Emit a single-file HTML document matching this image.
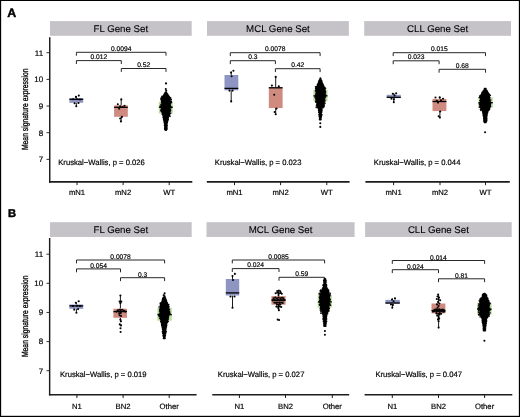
<!DOCTYPE html>
<html lang="en"><head><meta charset="utf-8"><title>Figure</title>
<style>
html,body{margin:0;padding:0;background:#fff;}
body{width:520px;height:417px;overflow:hidden;}
svg{display:block;font-family:"Liberation Sans", Arial, Helvetica, sans-serif;text-rendering:geometricPrecision;}
.t{fill:#000;stroke:#000;stroke-width:0.1px;}
.yt{stroke-width:0.3px;}
.s{stroke-width:0.18px;}
.b{stroke-width:0.45px;stroke-linejoin:round;}
.ax{stroke:#1c1c1c;fill:none;}
.br{stroke:#1c1c1c;stroke-width:0.95;fill:none;}
.wh{stroke:#000;stroke-width:0.9;fill:none;}
.md{stroke:#000;stroke-width:1.3;fill:none;}
.sw{stroke:#000;stroke-width:1.9;stroke-linecap:round;fill:none;}
.d{fill:#000;}
</style></head><body>
<svg width="520" height="417" viewBox="0 0 520 417">
<rect x="0" y="0" width="520" height="417" fill="#fff"/>
<rect x="50" y="21.1" width="141.70" height="14.70" fill="#c5c3c8"/>
<text class="t" x="120.85" y="31.85" font-size="9.7" text-anchor="middle">FL Gene Set</text>
<rect x="207" y="21.1" width="141.85" height="14.70" fill="#c5c3c8"/>
<text class="t" x="277.93" y="31.85" font-size="9.7" text-anchor="middle">MCL Gene Set</text>
<rect x="364.2" y="21.1" width="146.80" height="14.70" fill="#c5c3c8"/>
<text class="t" x="437.6" y="31.85" font-size="9.7" text-anchor="middle">CLL Gene Set</text>
<path class="ax" stroke-width="1.45" d="M49.75 37.3V182.65"/>
<path class="ax" stroke-width="1.65" d="M49.05 181.85H192.3"/>
<path class="ax" stroke-width="1.65" d="M206.8 181.85H349.6"/>
<path class="ax" stroke-width="1.65" d="M365.4 181.85H509.8"/>
<path class="ax" stroke-width="0.9" d="M46.5 52.7H49.7"/>
<text class="t s" x="43.1" y="55.55" font-size="8" text-anchor="end">11</text>
<path class="ax" stroke-width="0.9" d="M46.5 79.4H49.7"/>
<text class="t s" x="43.1" y="82.25" font-size="8" text-anchor="end">10</text>
<path class="ax" stroke-width="0.9" d="M46.5 106.05H49.7"/>
<text class="t s" x="43.1" y="108.9" font-size="8" text-anchor="end">9</text>
<path class="ax" stroke-width="0.9" d="M46.5 132.7H49.7"/>
<text class="t s" x="43.1" y="135.55" font-size="8" text-anchor="end">8</text>
<path class="ax" stroke-width="0.9" d="M46.5 159.4H49.7"/>
<text class="t s" x="43.1" y="162.25" font-size="8" text-anchor="end">7</text>
<path class="ax" stroke-width="1.0" d="M77 181.75V185.15"/>
<text class="t s" x="77" y="195.1" font-size="7.7" text-anchor="middle">mN1</text>
<path class="ax" stroke-width="1.0" d="M123.1 181.75V185.15"/>
<text class="t s" x="123.1" y="195.1" font-size="7.7" text-anchor="middle">mN2</text>
<path class="ax" stroke-width="1.0" d="M169.2 181.75V185.15"/>
<text class="t s" x="169.2" y="195.1" font-size="7.7" text-anchor="middle">WT</text>
<path class="ax" stroke-width="1.0" d="M234.5 181.75V185.15"/>
<text class="t s" x="234.5" y="195.1" font-size="7.7" text-anchor="middle">mN1</text>
<path class="ax" stroke-width="1.0" d="M280.6 181.75V185.15"/>
<text class="t s" x="280.6" y="195.1" font-size="7.7" text-anchor="middle">mN2</text>
<path class="ax" stroke-width="1.0" d="M326.8 181.75V185.15"/>
<text class="t s" x="326.8" y="195.1" font-size="7.7" text-anchor="middle">WT</text>
<path class="ax" stroke-width="1.0" d="M393.6 181.75V185.15"/>
<text class="t s" x="393.6" y="195.1" font-size="7.7" text-anchor="middle">mN1</text>
<path class="ax" stroke-width="1.0" d="M440 181.75V185.15"/>
<text class="t s" x="440" y="195.1" font-size="7.7" text-anchor="middle">mN2</text>
<path class="ax" stroke-width="1.0" d="M485.5 181.75V185.15"/>
<text class="t s" x="485.5" y="195.1" font-size="7.7" text-anchor="middle">WT</text>
<text class="t s" x="58.25" y="164.6" font-size="7.8" text-anchor="start" textLength="86.6" lengthAdjust="spacingAndGlyphs">Kruskal−Wallis, p = 0.026</text>
<text class="t s" x="214.8" y="164.6" font-size="7.8" text-anchor="start" textLength="86.6" lengthAdjust="spacingAndGlyphs">Kruskal−Wallis, p = 0.023</text>
<text class="t s" x="373.8" y="164.6" font-size="7.8" text-anchor="start" textLength="86.6" lengthAdjust="spacingAndGlyphs">Kruskal−Wallis, p = 0.044</text>
<text class="t yt" font-size="8.9" text-anchor="middle" transform="translate(27.6 109.3) rotate(-90) scale(0.765 1)">Mean signature expression</text>
<text class="t b" x="7.2" y="16.6" font-size="12.4" font-weight="bold">A</text>
<path class="br" d="M76.4 55.699999999999996V52.3H166.0V55.699999999999996"/>
<text class="t s" x="121.2" y="51.0" font-size="6.7" text-anchor="middle">0.0094</text>
<path class="br" d="M76.4 64.0V60.6H121.3V64.0"/>
<text class="t s" x="98.85" y="58.9" font-size="6.7" text-anchor="middle">0.012</text>
<path class="br" d="M121.3 71.9V68.5H166.0V71.9"/>
<text class="t s" x="143.65" y="66.8" font-size="6.7" text-anchor="middle">0.52</text>
<path class="br" d="M230.3 56.1V52.7H320.1V56.1"/>
<text class="t s" x="275.2" y="51.4" font-size="6.7" text-anchor="middle">0.0078</text>
<path class="br" d="M230.3 64.10000000000001V60.7H275.4V64.10000000000001"/>
<text class="t s" x="252.85" y="59.0" font-size="6.7" text-anchor="middle">0.3</text>
<path class="br" d="M275.4 72.10000000000001V68.7H320.1V72.10000000000001"/>
<text class="t s" x="297.75" y="67.0" font-size="6.7" text-anchor="middle">0.42</text>
<path class="br" d="M393.2 56.1V52.7H485.5V56.1"/>
<text class="t s" x="439.35" y="51.4" font-size="6.7" text-anchor="middle">0.015</text>
<path class="br" d="M393.2 64.2V60.8H439.1V64.2"/>
<text class="t s" x="416.15" y="59.1" font-size="6.7" text-anchor="middle">0.023</text>
<path class="br" d="M439.1 72.7V69.3H485.5V72.7"/>
<text class="t s" x="462.3" y="67.6" font-size="6.7" text-anchor="middle">0.68</text>
<path class="wh" d="M76.3 96V98.2"/>
<path class="wh" d="M76.3 102.8V106.2"/>
<rect x="69.4" y="98.2" width="13.80" height="4.60" fill="#8e95c3"/>
<path class="md" d="M69.4 99.3H83.2"/>
<circle class="d" cx="78.80" cy="95.60" r="1.05"/>
<circle class="d" cx="75.90" cy="96.90" r="1.05"/>
<circle class="d" cx="74.60" cy="103.30" r="1.05"/>
<circle class="d" cx="78.50" cy="103.00" r="1.05"/>
<circle class="d" cx="76.30" cy="106.20" r="1.05"/>
<circle class="d" cx="73.00" cy="99.30" r="1.05"/>
<circle class="d" cx="77.00" cy="99.20" r="1.05"/>
<circle class="d" cx="80.00" cy="99.50" r="1.05"/>
<path class="wh" d="M121.2 99.2V105.4"/>
<path class="wh" d="M121.2 116.8V121.5"/>
<rect x="114.1" y="105.4" width="13.70" height="11.40" fill="#cf8b7f"/>
<path class="md" d="M114.1 107.3H127.8"/>
<circle class="d" cx="121.30" cy="99.40" r="1.05"/>
<circle class="d" cx="117.80" cy="104.20" r="1.05"/>
<circle class="d" cx="124.50" cy="105.80" r="1.05"/>
<circle class="d" cx="120.20" cy="106.20" r="1.05"/>
<circle class="d" cx="119.20" cy="108.80" r="1.05"/>
<circle class="d" cx="122.60" cy="107.00" r="1.05"/>
<circle class="d" cx="121.90" cy="116.90" r="1.05"/>
<circle class="d" cx="120.20" cy="118.50" r="1.05"/>
<circle class="d" cx="120.90" cy="121.40" r="1.05"/>
<rect x="158.85" y="101.8" width="13.85" height="11.60" fill="#b9dd9d"/>
<path class="md" d="M158.85 107.2H172.7"/>
<path class="sw" d="M165.40 92.40H166.37M165.07 93.20H166.61M164.58 94.00H167.28M164.13 94.80H167.76M163.66 95.60H168.06M162.95 96.40H169.04M162.02 97.20H169.39M162.31 98.00H170.17M161.42 98.80H169.66M161.84 99.60H170.04M161.76 100.40H169.83M161.87 101.20H170.33M161.62 102.00H170.44M162.01 102.80H170.00M162.07 103.60H170.29M161.18 104.40H169.95M161.46 105.20H170.12M161.54 106.00H170.36M160.97 106.80H170.56M161.97 107.60H170.21M161.91 108.40H169.92M162.09 109.20H169.99M161.51 110.00H170.24M161.61 110.80H170.17M162.13 111.60H169.67M162.38 112.40H169.50M162.40 113.20H169.39M162.37 114.00H169.41M162.85 114.80H168.64M163.16 115.60H168.52M163.36 116.40H168.31M163.24 117.20H168.18M163.63 118.00H168.14M163.73 118.80H167.85M163.67 119.60H168.11M164.03 120.40H167.69M164.35 121.20H167.37M164.41 122.00H167.27M164.42 122.80H167.08M164.77 123.60H166.84M164.92 124.40H166.67M164.64 125.20H167.04M164.80 126.00H166.93M165.29 126.80H166.39M164.92 127.60H166.77M164.85 128.40H166.83M164.91 129.20H166.79M165.49 130.00H166.20"/>
<circle class="d" cx="162.02" cy="96.40" r="0.8"/>
<circle class="d" cx="161.06" cy="98.00" r="0.8"/>
<circle class="d" cx="170.77" cy="98.00" r="0.8"/>
<circle class="d" cx="160.97" cy="99.60" r="0.8"/>
<circle class="d" cx="171.23" cy="99.60" r="0.8"/>
<circle class="d" cx="171.19" cy="101.20" r="0.8"/>
<circle class="d" cx="171.53" cy="102.00" r="0.8"/>
<circle class="d" cx="171.17" cy="102.80" r="0.8"/>
<circle class="d" cx="160.26" cy="106.00" r="0.8"/>
<circle class="d" cx="160.48" cy="106.80" r="0.8"/>
<circle class="d" cx="160.67" cy="107.60" r="0.8"/>
<circle class="d" cx="171.55" cy="107.60" r="0.8"/>
<circle class="d" cx="160.79" cy="110.00" r="0.8"/>
<circle class="d" cx="161.13" cy="110.80" r="0.8"/>
<circle class="d" cx="170.62" cy="110.80" r="0.8"/>
<circle class="d" cx="161.41" cy="111.60" r="0.8"/>
<circle class="d" cx="170.71" cy="113.20" r="0.8"/>
<circle class="d" cx="169.68" cy="114.80" r="0.8"/>
<circle class="d" cx="169.44" cy="115.60" r="0.8"/>
<circle class="d" cx="169.96" cy="116.40" r="0.8"/>
<circle class="d" cx="166.00" cy="83.40" r="1.05"/>
<circle class="d" cx="165.80" cy="89.00" r="1.05"/>
<circle class="d" cx="166.20" cy="90.80" r="1.05"/>
<path class="wh" d="M231.2 71.5V75"/>
<path class="wh" d="M231.2 90.3V101.4"/>
<rect x="224.5" y="75" width="13.80" height="15.30" fill="#8e95c3"/>
<path class="md" d="M224.5 88.4H238.3"/>
<circle class="d" cx="233.40" cy="70.70" r="1.05"/>
<circle class="d" cx="231.10" cy="72.60" r="1.05"/>
<circle class="d" cx="231.60" cy="76.20" r="1.05"/>
<circle class="d" cx="229.50" cy="90.60" r="1.05"/>
<circle class="d" cx="232.60" cy="90.60" r="1.05"/>
<circle class="d" cx="231.20" cy="101.40" r="1.05"/>
<path class="wh" d="M275.7 76.7V87.1"/>
<path class="wh" d="M275.7 108.1V114.3"/>
<rect x="268.8" y="87.1" width="13.80" height="21.00" fill="#cf8b7f"/>
<path class="md" d="M268.8 87.8H282.6"/>
<circle class="d" cx="275.70" cy="76.90" r="1.05"/>
<circle class="d" cx="271.90" cy="85.60" r="1.05"/>
<circle class="d" cx="278.80" cy="86.40" r="1.05"/>
<circle class="d" cx="274.20" cy="94.70" r="1.05"/>
<circle class="d" cx="276.50" cy="108.60" r="1.05"/>
<circle class="d" cx="274.60" cy="112.00" r="1.05"/>
<circle class="d" cx="275.70" cy="114.30" r="1.05"/>
<rect x="313.4" y="89.8" width="14.10" height="11.50" fill="#b9dd9d"/>
<path class="md" d="M313.4 95.85H327.5"/>
<path class="sw" d="M320.10 79.50H320.52M319.50 80.30H321.16M318.90 81.10H321.73M318.75 81.90H321.66M318.69 82.70H321.92M318.40 83.50H322.22M317.84 84.30H322.93M317.32 85.10H323.05M317.49 85.90H323.55M316.61 86.70H323.77M316.21 87.50H324.55M315.98 88.30H324.42M316.02 89.10H323.96M316.07 89.90H324.24M315.71 90.70H324.58M316.22 91.50H324.83M316.33 92.30H324.22M316.47 93.10H324.93M315.99 93.90H324.95M316.04 94.70H324.60M316.34 95.50H324.08M315.79 96.30H324.64M316.03 97.10H324.81M315.88 97.90H324.47M315.81 98.70H324.34M316.27 99.50H324.52M316.36 100.30H324.69M316.02 101.10H323.96M316.34 101.90H323.65M317.21 102.70H323.90M317.33 103.50H323.71M316.88 104.30H323.18M317.31 105.10H323.67M317.36 105.90H323.13M317.77 106.70H323.21M317.57 107.50H322.97M318.69 108.30H321.62M319.13 109.10H321.42M318.71 109.90H321.84M318.88 110.70H321.71M319.31 111.50H321.50M318.94 112.30H321.48M319.49 113.10H321.07M319.49 113.90H321.07M319.10 114.70H321.76M319.62 115.50H320.93M319.47 116.30H321.21M319.66 117.10H321.01M319.74 117.90H320.88M319.93 118.70H320.69M319.69 119.50H320.86"/>
<circle class="d" cx="315.49" cy="86.70" r="0.8"/>
<circle class="d" cx="315.60" cy="88.30" r="0.8"/>
<circle class="d" cx="325.62" cy="88.30" r="0.8"/>
<circle class="d" cx="325.09" cy="89.90" r="0.8"/>
<circle class="d" cx="325.35" cy="91.50" r="0.8"/>
<circle class="d" cx="325.51" cy="92.30" r="0.8"/>
<circle class="d" cx="325.61" cy="94.70" r="0.8"/>
<circle class="d" cx="325.66" cy="95.50" r="0.8"/>
<circle class="d" cx="314.94" cy="97.10" r="0.8"/>
<circle class="d" cx="325.43" cy="97.10" r="0.8"/>
<circle class="d" cx="315.59" cy="101.90" r="0.8"/>
<circle class="d" cx="324.85" cy="101.90" r="0.8"/>
<circle class="d" cx="324.94" cy="103.50" r="0.8"/>
<circle class="d" cx="324.35" cy="105.10" r="0.8"/>
<circle class="d" cx="316.41" cy="105.90" r="0.8"/>
<circle class="d" cx="324.13" cy="106.70" r="0.8"/>
<circle class="d" cx="316.16" cy="107.50" r="0.8"/>
<circle class="d" cx="320.40" cy="78.40" r="1.05"/>
<circle class="d" cx="320.30" cy="123.20" r="1.05"/>
<circle class="d" cx="320.30" cy="126.90" r="1.05"/>
<path class="wh" d="M393.8 93V94.8"/>
<path class="wh" d="M393.8 98.1V102.3"/>
<rect x="386.7" y="94.8" width="14.10" height="3.30" fill="#8e95c3"/>
<path class="md" d="M386.7 97.3H400.8"/>
<circle class="d" cx="396.20" cy="93.20" r="1.05"/>
<circle class="d" cx="392.80" cy="93.80" r="1.05"/>
<circle class="d" cx="394.60" cy="95.40" r="1.05"/>
<circle class="d" cx="391.50" cy="98.80" r="1.05"/>
<circle class="d" cx="394.00" cy="99.20" r="1.05"/>
<circle class="d" cx="393.80" cy="102.30" r="1.05"/>
<path class="wh" d="M439.9 97V98.9"/>
<path class="wh" d="M439.9 111.1V117.3"/>
<rect x="432.5" y="98.9" width="13.90" height="12.20" fill="#cf8b7f"/>
<path class="md" d="M432.5 101.5H446.4"/>
<circle class="d" cx="435.50" cy="97.50" r="1.05"/>
<circle class="d" cx="439.70" cy="97.40" r="1.05"/>
<circle class="d" cx="443.00" cy="98.80" r="1.05"/>
<circle class="d" cx="438.00" cy="102.60" r="1.05"/>
<circle class="d" cx="441.00" cy="100.40" r="1.05"/>
<circle class="d" cx="436.80" cy="100.80" r="1.05"/>
<circle class="d" cx="440.20" cy="111.50" r="1.05"/>
<circle class="d" cx="438.70" cy="116.30" r="1.05"/>
<circle class="d" cx="439.90" cy="117.60" r="1.05"/>
<rect x="478.5" y="97.4" width="14.30" height="10.10" fill="#b9dd9d"/>
<path class="md" d="M478.5 102.7H492.8"/>
<path class="sw" d="M484.60 88.80H485.84M484.52 89.60H485.85M483.71 90.40H486.64M483.45 91.20H487.09M482.59 92.00H487.35M482.15 92.80H488.00M481.98 93.60H488.52M481.66 94.40H489.19M481.39 95.20H488.97M481.32 96.00H489.00M480.69 96.80H489.32M481.06 97.60H489.66M480.61 98.40H489.47M480.79 99.20H489.23M480.60 100.00H489.48M481.03 100.80H489.73M480.84 101.60H489.96M480.33 102.40H490.14M480.71 103.20H490.44M481.04 104.00H490.26M480.29 104.80H490.21M480.20 105.60H490.18M480.15 106.40H490.03M481.08 107.20H489.58M480.89 108.00H489.52M481.81 108.80H489.34M481.70 109.60H488.81M482.42 110.40H488.32M482.77 111.20H487.57M483.00 112.00H487.52M482.97 112.80H487.36M483.16 113.60H486.98M483.50 114.40H486.95M483.36 115.20H486.86M483.56 116.00H486.64M483.93 116.80H486.55M483.94 117.60H486.48M483.86 118.40H486.63M484.19 119.20H486.14M484.00 120.00H486.65M484.09 120.80H486.45M484.01 121.60H486.27M484.73 122.40H485.76"/>
<circle class="d" cx="480.50" cy="95.20" r="0.8"/>
<circle class="d" cx="490.39" cy="95.20" r="0.8"/>
<circle class="d" cx="479.71" cy="96.00" r="0.8"/>
<circle class="d" cx="479.93" cy="96.80" r="0.8"/>
<circle class="d" cx="479.22" cy="97.60" r="0.8"/>
<circle class="d" cx="490.71" cy="100.00" r="0.8"/>
<circle class="d" cx="479.85" cy="100.80" r="0.8"/>
<circle class="d" cx="479.23" cy="103.20" r="0.8"/>
<circle class="d" cx="479.43" cy="104.80" r="0.8"/>
<circle class="d" cx="490.54" cy="106.40" r="0.8"/>
<circle class="d" cx="479.31" cy="107.20" r="0.8"/>
<circle class="d" cx="480.44" cy="109.60" r="0.8"/>
<circle class="d" cx="489.43" cy="109.60" r="0.8"/>
<circle class="d" cx="480.96" cy="110.40" r="0.8"/>
<circle class="d" cx="485.10" cy="132.20" r="1.05"/>
<rect x="50" y="222.2" width="141.70" height="14.80" fill="#c5c3c8"/>
<text class="t" x="120.85" y="233" font-size="9.7" text-anchor="middle">FL Gene Set</text>
<rect x="206.5" y="222.2" width="148.10" height="14.80" fill="#c5c3c8"/>
<text class="t" x="280.55" y="233" font-size="9.7" text-anchor="middle">MCL Gene Set</text>
<rect x="365.1" y="222.2" width="146.60" height="14.80" fill="#c5c3c8"/>
<text class="t" x="438.4" y="233" font-size="9.7" text-anchor="middle">CLL Gene Set</text>
<path class="ax" stroke-width="1.45" d="M49.65 238V395.5"/>
<path class="ax" stroke-width="1.65" d="M48.95 394.70000000000005H196.6"/>
<path class="ax" stroke-width="1.65" d="M212.3 394.70000000000005H349.2"/>
<path class="ax" stroke-width="1.65" d="M364.6 394.70000000000005H512.3"/>
<path class="ax" stroke-width="0.9" d="M46.5 254.2H49.6"/>
<text class="t s" x="43.1" y="257.05" font-size="8" text-anchor="end">11</text>
<path class="ax" stroke-width="0.9" d="M46.5 283.3H49.6"/>
<text class="t s" x="43.1" y="286.15" font-size="8" text-anchor="end">10</text>
<path class="ax" stroke-width="0.9" d="M46.5 312.45H49.6"/>
<text class="t s" x="43.1" y="315.3" font-size="8" text-anchor="end">9</text>
<path class="ax" stroke-width="0.9" d="M46.5 341.6H49.6"/>
<text class="t s" x="43.1" y="344.45" font-size="8" text-anchor="end">8</text>
<path class="ax" stroke-width="0.9" d="M46.5 370.7H49.6"/>
<text class="t s" x="43.1" y="373.55" font-size="8" text-anchor="end">7</text>
<path class="ax" stroke-width="1.0" d="M76.9 394.6V398.0"/>
<text class="t s" x="76.9" y="408.5" font-size="7.7" text-anchor="middle">N1</text>
<path class="ax" stroke-width="1.0" d="M123.1 394.6V398.0"/>
<text class="t s" x="123.1" y="408.5" font-size="7.7" text-anchor="middle">BN2</text>
<path class="ax" stroke-width="1.0" d="M169.2 394.6V398.0"/>
<text class="t s" x="169.2" y="408.5" font-size="7.7" text-anchor="middle">Other</text>
<path class="ax" stroke-width="1.0" d="M239.4 394.6V398.0"/>
<text class="t s" x="239.4" y="408.5" font-size="7.7" text-anchor="middle">N1</text>
<path class="ax" stroke-width="1.0" d="M285.5 394.6V398.0"/>
<text class="t s" x="285.5" y="408.5" font-size="7.7" text-anchor="middle">BN2</text>
<path class="ax" stroke-width="1.0" d="M332.3 394.6V398.0"/>
<text class="t s" x="332.3" y="408.5" font-size="7.7" text-anchor="middle">Other</text>
<path class="ax" stroke-width="1.0" d="M392.3 394.6V398.0"/>
<text class="t s" x="392.3" y="408.5" font-size="7.7" text-anchor="middle">N1</text>
<path class="ax" stroke-width="1.0" d="M438.5 394.6V398.0"/>
<text class="t s" x="438.5" y="408.5" font-size="7.7" text-anchor="middle">BN2</text>
<path class="ax" stroke-width="1.0" d="M484.6 394.6V398.0"/>
<text class="t s" x="484.6" y="408.5" font-size="7.7" text-anchor="middle">Other</text>
<text class="t s" x="60" y="376.8" font-size="7.8" text-anchor="start" textLength="86.6" lengthAdjust="spacingAndGlyphs">Kruskal−Wallis, p = 0.019</text>
<text class="t s" x="217.8" y="376.8" font-size="7.8" text-anchor="start" textLength="86.6" lengthAdjust="spacingAndGlyphs">Kruskal−Wallis, p = 0.027</text>
<text class="t s" x="375.4" y="376.8" font-size="7.8" text-anchor="start" textLength="86.6" lengthAdjust="spacingAndGlyphs">Kruskal−Wallis, p = 0.047</text>
<text class="t yt" font-size="8.9" text-anchor="middle" transform="translate(27.6 316.3) rotate(-90) scale(0.765 1)">Mean signature expression</text>
<text class="t b" x="7.9" y="217.3" font-size="11.2" font-weight="bold">B</text>
<path class="br" d="M76.5 263.4V260H164.6V263.4"/>
<text class="t s" x="120.55" y="259.3" font-size="6.7" text-anchor="middle">0.0078</text>
<path class="br" d="M76.5 272.29999999999995V268.9H120.5V272.29999999999995"/>
<text class="t s" x="98.5" y="268.0" font-size="6.7" text-anchor="middle">0.054</text>
<path class="br" d="M120.5 281.09999999999997V277.7H164.6V281.09999999999997"/>
<text class="t s" x="142.55" y="276.7" font-size="6.7" text-anchor="middle">0.3</text>
<path class="br" d="M232.3 263.4V260H324.6V263.4"/>
<text class="t s" x="278.45" y="259.0" font-size="6.7" text-anchor="middle">0.0085</text>
<path class="br" d="M232.3 272.0V268.6H279V272.0"/>
<text class="t s" x="255.65" y="267.4" font-size="6.7" text-anchor="middle">0.024</text>
<path class="br" d="M279 280.7V277.3H324.6V280.7"/>
<text class="t s" x="301.8" y="276.3" font-size="6.7" text-anchor="middle">0.59</text>
<path class="br" d="M392.3 263.9V260.5H484.6V263.9"/>
<text class="t s" x="438.45" y="259.8" font-size="6.7" text-anchor="middle">0.014</text>
<path class="br" d="M392.3 273.09999999999997V269.7H438.5V273.09999999999997"/>
<text class="t s" x="415.4" y="268.8" font-size="6.7" text-anchor="middle">0.024</text>
<path class="br" d="M438.5 282.2V278.8H484.6V282.2"/>
<text class="t s" x="461.55" y="277.8" font-size="6.7" text-anchor="middle">0.81</text>
<path class="wh" d="M76.4 302V304.5"/>
<path class="wh" d="M76.4 308.8V312.7"/>
<rect x="69.4" y="304.5" width="13.80" height="4.30" fill="#8e95c3"/>
<path class="md" d="M69.4 305.9H83.2"/>
<circle class="d" cx="78.70" cy="301.20" r="1.05"/>
<circle class="d" cx="75.80" cy="302.70" r="1.05"/>
<circle class="d" cx="74.20" cy="309.60" r="1.05"/>
<circle class="d" cx="78.10" cy="309.10" r="1.05"/>
<circle class="d" cx="76.40" cy="312.70" r="1.05"/>
<circle class="d" cx="73.00" cy="306.00" r="1.05"/>
<circle class="d" cx="77.00" cy="305.80" r="1.05"/>
<circle class="d" cx="80.00" cy="306.10" r="1.05"/>
<path class="wh" d="M120.4 295.4V308.7"/>
<path class="wh" d="M120.4 317.8V322.2"/>
<rect x="113.4" y="308.7" width="13.60" height="9.10" fill="#cf8b7f"/>
<path class="md" d="M113.4 311.6H127"/>
<circle class="d" cx="120.40" cy="295.50" r="1.05"/>
<circle class="d" cx="119.60" cy="301.60" r="1.05"/>
<circle class="d" cx="121.30" cy="301.60" r="1.05"/>
<circle class="d" cx="120.40" cy="303.20" r="1.05"/>
<circle class="d" cx="116.40" cy="311.60" r="1.05"/>
<circle class="d" cx="117.90" cy="310.30" r="1.05"/>
<circle class="d" cx="119.40" cy="309.70" r="1.05"/>
<circle class="d" cx="120.90" cy="310.10" r="1.05"/>
<circle class="d" cx="122.40" cy="309.80" r="1.05"/>
<circle class="d" cx="123.90" cy="310.70" r="1.05"/>
<circle class="d" cx="125.20" cy="311.60" r="1.05"/>
<circle class="d" cx="119.20" cy="313.40" r="1.05"/>
<circle class="d" cx="120.80" cy="312.90" r="1.05"/>
<circle class="d" cx="119.60" cy="315.30" r="1.05"/>
<circle class="d" cx="121.00" cy="316.00" r="1.05"/>
<circle class="d" cx="120.40" cy="319.60" r="1.05"/>
<circle class="d" cx="121.00" cy="321.20" r="1.05"/>
<circle class="d" cx="119.80" cy="324.40" r="1.05"/>
<circle class="d" cx="121.00" cy="325.40" r="1.05"/>
<circle class="d" cx="120.50" cy="328.30" r="1.05"/>
<circle class="d" cx="120.60" cy="332.00" r="1.05"/>
<rect x="157.4" y="307.8" width="14.40" height="12.90" fill="#b9dd9d"/>
<path class="md" d="M157.4 314.7H171.8"/>
<path class="sw" d="M163.65 297.40H164.80M162.94 298.20H165.34M162.94 299.00H165.48M162.59 299.80H165.86M162.51 300.60H166.29M162.06 301.40H166.21M162.01 302.20H166.80M161.36 303.00H167.05M160.52 303.80H167.29M160.71 304.60H168.55M160.59 305.40H167.99M160.36 306.20H167.94M160.85 307.00H168.33M160.52 307.80H167.70M160.15 308.60H168.29M159.98 309.40H168.16M160.33 310.20H168.46M159.76 311.00H167.96M160.28 311.80H168.67M160.22 312.60H168.55M160.28 313.40H168.95M159.43 314.20H168.52M160.33 315.00H168.34M159.60 315.80H168.56M160.20 316.60H168.27M160.73 317.40H168.13M160.93 318.20H167.62M160.64 319.00H167.79M161.06 319.80H167.59M161.68 320.60H167.11M161.21 321.40H167.38M161.45 322.20H167.23M161.52 323.00H166.80M161.78 323.80H166.43M161.78 324.60H166.43M161.85 325.40H166.51M162.30 326.20H166.12M162.46 327.00H166.23M162.40 327.80H165.87M162.78 328.60H165.90M162.75 329.40H165.69M163.03 330.20H165.59M163.35 331.00H165.19M162.57 331.80H166.03M163.30 332.60H165.22M162.90 333.40H165.49M163.86 334.20H164.66M163.58 335.00H165.00M163.20 335.80H165.26M163.70 336.60H164.84M163.83 337.40H164.68M163.66 338.20H164.96"/>
<circle class="d" cx="160.35" cy="303.00" r="0.8"/>
<circle class="d" cx="168.80" cy="306.20" r="0.8"/>
<circle class="d" cx="159.04" cy="307.00" r="0.8"/>
<circle class="d" cx="168.93" cy="307.00" r="0.8"/>
<circle class="d" cx="169.39" cy="309.40" r="0.8"/>
<circle class="d" cx="168.95" cy="310.20" r="0.8"/>
<circle class="d" cx="169.65" cy="311.80" r="0.8"/>
<circle class="d" cx="169.31" cy="312.60" r="0.8"/>
<circle class="d" cx="169.95" cy="313.40" r="0.8"/>
<circle class="d" cx="159.09" cy="314.20" r="0.8"/>
<circle class="d" cx="169.53" cy="314.20" r="0.8"/>
<circle class="d" cx="158.74" cy="315.00" r="0.8"/>
<circle class="d" cx="159.16" cy="316.60" r="0.8"/>
<circle class="d" cx="159.67" cy="318.20" r="0.8"/>
<circle class="d" cx="168.23" cy="319.00" r="0.8"/>
<circle class="d" cx="160.66" cy="321.40" r="0.8"/>
<circle class="d" cx="168.17" cy="321.40" r="0.8"/>
<circle class="d" cx="164.60" cy="293.40" r="1.05"/>
<circle class="d" cx="163.70" cy="295.20" r="1.05"/>
<circle class="d" cx="164.60" cy="296.40" r="1.05"/>
<path class="wh" d="M232.5 275.7V279"/>
<path class="wh" d="M232.5 295.5V307.8"/>
<rect x="225.8" y="279" width="13.40" height="16.50" fill="#8e95c3"/>
<path class="md" d="M225.8 292.9H239.2"/>
<circle class="d" cx="234.90" cy="273.90" r="1.05"/>
<circle class="d" cx="232.50" cy="276.00" r="1.05"/>
<circle class="d" cx="233.00" cy="280.00" r="1.05"/>
<circle class="d" cx="230.50" cy="296.50" r="1.05"/>
<circle class="d" cx="234.50" cy="296.50" r="1.05"/>
<circle class="d" cx="232.50" cy="307.80" r="1.05"/>
<path class="wh" d="M278.5 290.4V296.1"/>
<path class="wh" d="M278.5 304.7V310.2"/>
<rect x="271.4" y="296.1" width="14.20" height="8.60" fill="#cf8b7f"/>
<path class="md" d="M271.4 300.1H285.6"/>
<circle class="d" cx="277.20" cy="291.00" r="1.05"/>
<circle class="d" cx="278.90" cy="290.60" r="1.05"/>
<circle class="d" cx="280.30" cy="291.40" r="1.05"/>
<circle class="d" cx="275.60" cy="293.20" r="1.05"/>
<circle class="d" cx="277.30" cy="292.80" r="1.05"/>
<circle class="d" cx="279.00" cy="293.20" r="1.05"/>
<circle class="d" cx="280.70" cy="292.90" r="1.05"/>
<circle class="d" cx="281.80" cy="293.80" r="1.05"/>
<circle class="d" cx="278.50" cy="295.00" r="1.05"/>
<circle class="d" cx="273.60" cy="298.20" r="1.05"/>
<circle class="d" cx="275.30" cy="297.60" r="1.05"/>
<circle class="d" cx="277.00" cy="298.20" r="1.05"/>
<circle class="d" cx="278.70" cy="297.60" r="1.05"/>
<circle class="d" cx="280.40" cy="298.20" r="1.05"/>
<circle class="d" cx="282.10" cy="297.70" r="1.05"/>
<circle class="d" cx="283.40" cy="298.40" r="1.05"/>
<circle class="d" cx="272.80" cy="300.40" r="1.05"/>
<circle class="d" cx="274.50" cy="300.00" r="1.05"/>
<circle class="d" cx="276.20" cy="300.50" r="1.05"/>
<circle class="d" cx="277.90" cy="300.00" r="1.05"/>
<circle class="d" cx="279.60" cy="300.50" r="1.05"/>
<circle class="d" cx="281.30" cy="300.00" r="1.05"/>
<circle class="d" cx="283.00" cy="300.50" r="1.05"/>
<circle class="d" cx="284.40" cy="300.10" r="1.05"/>
<circle class="d" cx="274.40" cy="302.60" r="1.05"/>
<circle class="d" cx="276.10" cy="302.90" r="1.05"/>
<circle class="d" cx="277.80" cy="302.50" r="1.05"/>
<circle class="d" cx="279.50" cy="302.90" r="1.05"/>
<circle class="d" cx="281.20" cy="302.50" r="1.05"/>
<circle class="d" cx="282.80" cy="303.00" r="1.05"/>
<circle class="d" cx="277.00" cy="304.60" r="1.05"/>
<circle class="d" cx="278.80" cy="304.90" r="1.05"/>
<circle class="d" cx="280.40" cy="304.50" r="1.05"/>
<circle class="d" cx="276.40" cy="306.60" r="1.05"/>
<circle class="d" cx="278.10" cy="306.90" r="1.05"/>
<circle class="d" cx="279.80" cy="306.50" r="1.05"/>
<circle class="d" cx="281.20" cy="307.00" r="1.05"/>
<circle class="d" cx="278.40" cy="308.60" r="1.05"/>
<circle class="d" cx="279.00" cy="310.20" r="1.05"/>
<circle class="d" cx="277.70" cy="319.60" r="1.05"/>
<circle class="d" cx="279.10" cy="320.00" r="1.05"/>
<rect x="317.8" y="294.8" width="14.00" height="12.90" fill="#b9dd9d"/>
<path class="md" d="M317.8 301.9H331.8"/>
<path class="sw" d="M324.38 278.90H325.36M324.47 279.70H325.30M323.83 280.50H325.90M324.48 281.30H325.35M323.91 282.10H325.97M324.42 282.90H325.30M324.64 283.70H325.20M323.56 284.50H326.21M323.15 285.30H326.43M323.65 286.10H326.10M323.63 286.90H326.40M323.18 287.70H326.63M322.74 288.50H326.98M322.51 289.30H327.48M322.00 290.10H328.45M321.00 290.90H328.47M320.73 291.70H328.42M321.40 292.50H328.78M321.24 293.30H328.57M320.21 294.10H329.02M320.81 294.90H329.47M320.25 295.70H329.73M320.98 296.50H329.05M319.95 297.30H329.25M319.94 298.10H329.07M320.07 298.90H329.69M320.62 299.70H329.24M320.17 300.50H329.10M320.64 301.30H329.87M320.71 302.10H328.90M320.53 302.90H329.05M320.30 303.70H329.59M320.90 304.50H329.67M320.40 305.30H328.86M320.72 306.10H328.84M320.95 306.90H328.60M320.67 307.70H328.33M320.98 308.50H328.89M321.05 309.30H328.44M321.31 310.10H328.17M322.05 310.90H328.13M322.17 311.70H327.69M322.27 312.50H327.41M322.42 313.30H327.47M322.85 314.10H326.98M323.28 314.90H326.60M323.49 315.70H326.35M323.36 316.50H326.40M323.59 317.30H326.04M323.58 318.10H326.25M323.12 318.90H326.45M323.90 319.70H325.79M324.10 320.50H325.63M323.52 321.30H326.45M323.97 322.10H325.81M323.84 322.90H326.03M324.35 323.70H325.43M324.14 324.50H325.70M324.04 325.30H325.62M324.17 326.10H325.66"/>
<circle class="d" cx="320.73" cy="290.10" r="0.8"/>
<circle class="d" cx="320.20" cy="290.90" r="0.8"/>
<circle class="d" cx="319.35" cy="293.30" r="0.8"/>
<circle class="d" cx="330.31" cy="293.30" r="0.8"/>
<circle class="d" cx="319.15" cy="294.10" r="0.8"/>
<circle class="d" cx="329.94" cy="294.90" r="0.8"/>
<circle class="d" cx="319.39" cy="297.30" r="0.8"/>
<circle class="d" cx="330.23" cy="299.70" r="0.8"/>
<circle class="d" cx="319.71" cy="300.50" r="0.8"/>
<circle class="d" cx="319.36" cy="302.10" r="0.8"/>
<circle class="d" cx="319.34" cy="304.50" r="0.8"/>
<circle class="d" cx="319.74" cy="305.30" r="0.8"/>
<circle class="d" cx="330.57" cy="305.30" r="0.8"/>
<circle class="d" cx="320.35" cy="308.50" r="0.8"/>
<circle class="d" cx="329.37" cy="308.50" r="0.8"/>
<circle class="d" cx="320.27" cy="310.10" r="0.8"/>
<circle class="d" cx="329.04" cy="310.90" r="0.8"/>
<circle class="d" cx="320.73" cy="311.70" r="0.8"/>
<circle class="d" cx="320.89" cy="313.30" r="0.8"/>
<circle class="d" cx="324.90" cy="331.00" r="1.05"/>
<circle class="d" cx="324.90" cy="334.80" r="1.05"/>
<path class="wh" d="M392.4 298.4V299.9"/>
<path class="wh" d="M392.4 303.7V307.8"/>
<rect x="385.4" y="299.9" width="14.40" height="3.80" fill="#8e95c3"/>
<path class="md" d="M385.4 303H399.8"/>
<circle class="d" cx="395.00" cy="298.40" r="1.05"/>
<circle class="d" cx="392.00" cy="299.60" r="1.05"/>
<circle class="d" cx="393.60" cy="301.30" r="1.05"/>
<circle class="d" cx="391.00" cy="304.50" r="1.05"/>
<circle class="d" cx="393.00" cy="305.00" r="1.05"/>
<circle class="d" cx="392.30" cy="307.80" r="1.05"/>
<path class="wh" d="M438.6 294.6V303.5"/>
<path class="wh" d="M438.6 313.3V327.6"/>
<rect x="431.5" y="303.5" width="13.90" height="9.80" fill="#cf8b7f"/>
<path class="md" d="M431.5 310.6H445.4"/>
<circle class="d" cx="438.10" cy="294.60" r="1.05"/>
<circle class="d" cx="437.50" cy="296.50" r="1.05"/>
<circle class="d" cx="439.00" cy="297.60" r="1.05"/>
<circle class="d" cx="436.80" cy="299.00" r="1.05"/>
<circle class="d" cx="438.60" cy="299.60" r="1.05"/>
<circle class="d" cx="440.20" cy="300.20" r="1.05"/>
<circle class="d" cx="438.00" cy="302.00" r="1.05"/>
<circle class="d" cx="437.00" cy="304.40" r="1.05"/>
<circle class="d" cx="439.40" cy="303.60" r="1.05"/>
<circle class="d" cx="438.60" cy="306.00" r="1.05"/>
<circle class="d" cx="437.60" cy="307.80" r="1.05"/>
<circle class="d" cx="434.40" cy="309.80" r="1.05"/>
<circle class="d" cx="436.10" cy="309.40" r="1.05"/>
<circle class="d" cx="437.80" cy="309.90" r="1.05"/>
<circle class="d" cx="439.50" cy="309.40" r="1.05"/>
<circle class="d" cx="441.20" cy="309.90" r="1.05"/>
<circle class="d" cx="442.90" cy="309.50" r="1.05"/>
<circle class="d" cx="444.20" cy="310.20" r="1.05"/>
<circle class="d" cx="433.00" cy="311.60" r="1.05"/>
<circle class="d" cx="434.70" cy="311.30" r="1.05"/>
<circle class="d" cx="436.40" cy="311.70" r="1.05"/>
<circle class="d" cx="438.10" cy="311.30" r="1.05"/>
<circle class="d" cx="439.80" cy="311.70" r="1.05"/>
<circle class="d" cx="441.50" cy="311.30" r="1.05"/>
<circle class="d" cx="443.20" cy="311.70" r="1.05"/>
<circle class="d" cx="444.40" cy="311.40" r="1.05"/>
<circle class="d" cx="436.40" cy="313.40" r="1.05"/>
<circle class="d" cx="438.10" cy="313.70" r="1.05"/>
<circle class="d" cx="439.80" cy="313.40" r="1.05"/>
<circle class="d" cx="441.20" cy="313.80" r="1.05"/>
<circle class="d" cx="437.20" cy="315.60" r="1.05"/>
<circle class="d" cx="439.50" cy="314.80" r="1.05"/>
<circle class="d" cx="438.60" cy="317.00" r="1.05"/>
<circle class="d" cx="438.00" cy="319.40" r="1.05"/>
<circle class="d" cx="439.20" cy="318.60" r="1.05"/>
<circle class="d" cx="438.60" cy="321.20" r="1.05"/>
<circle class="d" cx="438.60" cy="327.60" r="1.05"/>
<rect x="477.2" y="302.8" width="14.40" height="12.00" fill="#b9dd9d"/>
<path class="md" d="M477.2 309.2H491.6"/>
<path class="sw" d="M484.06 293.70H484.83M482.93 294.50H485.73M482.62 295.30H486.42M482.72 296.10H486.17M482.47 296.90H486.66M482.00 297.70H486.93M481.10 298.50H487.70M480.92 299.30H487.77M480.34 300.10H487.71M480.89 300.90H488.68M480.08 301.70H488.40M480.07 302.50H488.98M480.47 303.30H488.98M479.62 304.10H488.84M479.96 304.90H488.48M480.35 305.70H489.11M479.80 306.50H488.51M479.28 307.30H488.63M479.48 308.10H489.42M479.19 308.90H489.57M480.23 309.70H488.90M480.04 310.50H489.37M480.16 311.30H488.71M480.39 312.10H488.58M479.51 312.90H488.52M479.84 313.70H488.68M480.15 314.50H488.96M480.70 315.30H488.48M481.08 316.10H488.06M481.70 316.90H487.67M481.78 317.70H487.07M482.39 318.50H486.26M482.59 319.30H486.27M482.37 320.10H486.35M482.49 320.90H486.50M482.72 321.70H486.13M482.55 322.50H485.99M482.89 323.30H486.07M483.05 324.10H485.85M483.27 324.90H485.64M483.23 325.70H485.70M483.53 326.50H485.47M483.77 327.30H485.03M483.33 328.10H485.46M483.73 328.90H485.04M483.51 329.70H485.25M483.59 330.50H485.31"/>
<circle class="d" cx="480.48" cy="298.50" r="0.8"/>
<circle class="d" cx="480.04" cy="299.30" r="0.8"/>
<circle class="d" cx="479.27" cy="300.90" r="0.8"/>
<circle class="d" cx="490.15" cy="303.30" r="0.8"/>
<circle class="d" cx="478.84" cy="304.10" r="0.8"/>
<circle class="d" cx="489.68" cy="304.10" r="0.8"/>
<circle class="d" cx="478.56" cy="305.70" r="0.8"/>
<circle class="d" cx="478.26" cy="308.10" r="0.8"/>
<circle class="d" cx="478.37" cy="308.90" r="0.8"/>
<circle class="d" cx="490.48" cy="309.70" r="0.8"/>
<circle class="d" cx="478.69" cy="310.50" r="0.8"/>
<circle class="d" cx="478.44" cy="312.10" r="0.8"/>
<circle class="d" cx="489.99" cy="312.90" r="0.8"/>
<circle class="d" cx="478.74" cy="314.50" r="0.8"/>
<circle class="d" cx="479.11" cy="315.30" r="0.8"/>
<circle class="d" cx="489.13" cy="316.10" r="0.8"/>
<circle class="d" cx="480.16" cy="316.90" r="0.8"/>
<circle class="d" cx="484.40" cy="340.80" r="1.05"/>
<rect x="0" y="0" width="520" height="1.0" fill="#000"/>
<rect x="0" y="0" width="1.15" height="417" fill="#000"/>
<rect x="518.85" y="0" width="1.15" height="417" fill="#000"/>
<rect x="0" y="415.8" width="520" height="1.2" fill="#000"/>
</svg></body></html>
